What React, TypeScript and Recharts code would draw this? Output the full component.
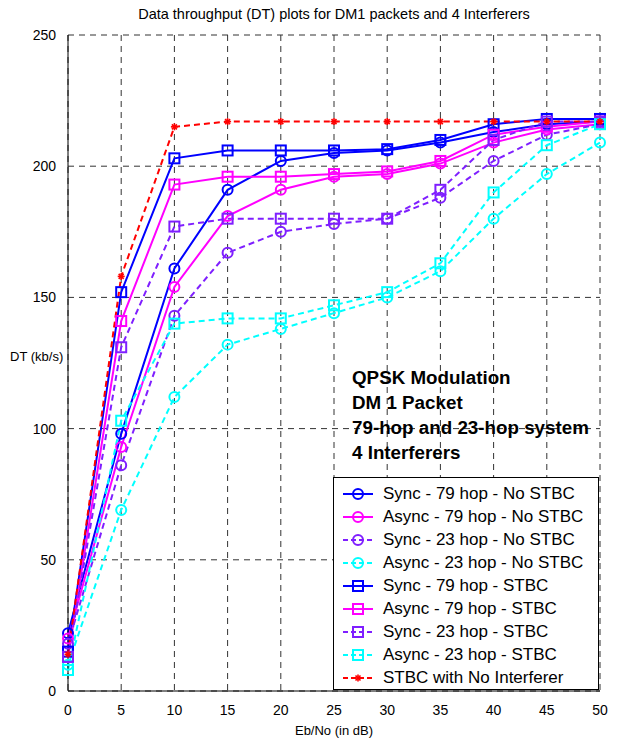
import { LineChart, Line, XAxis, YAxis, CartesianGrid } from 'recharts'

// Eb/No points (dB)
const EBNO = [0, 5, 10, 15, 20, 25, 30, 35, 40, 45, 50]

// DT (kb/s)
const SYNC79_NOSTBC = [22, 98, 161, 191, 202, 205, 206, 209, 213, 216, 217]
const ASYNC79_NOSTBC = [20, 93, 154, 181, 191, 196, 197, 201, 209, 214, 216]
const SYNC23_NOSTBC = [18, 86, 143, 167, 175, 178, 180, 188, 202, 212, 216]
const ASYNC23_NOSTBC = [10, 69, 112, 132, 138, 144, 150, 160, 180, 197, 209]
const SYNC79_STBC = [15, 152, 203, 206, 206, 206, 206.5, 210, 216, 218, 218]
const ASYNC79_STBC = [13, 141, 193, 196, 196, 197, 198, 202, 212, 215, 217]
const SYNC23_STBC = [13, 131, 177, 180, 180, 180, 180, 191, 210, 217, 217]
const ASYNC23_STBC = [8, 103, 140, 142, 142, 147, 152, 163, 190, 208, 216]
const NO_INTERF = [14, 158, 215, 217, 217, 217, 217, 217, 217, 217, 217]

const X_TICKS = [0, 5, 10, 15, 20, 25, 30, 35, 40, 45, 50]
const Y_TICKS = [0, 50, 100, 150, 200, 250]

const ANNOTATION = ['QPSK Modulation', 'DM 1 Packet', '79-hop and 23-hop system', '4 Interferers']

type Shape = 'circle' | 'square' | 'star'

interface Series {
  key: string
  name: string
  values: number[]
  color: string
  dashed: boolean
  shape: Shape
}

const BLUE = '#0000ff'
const MAGENTA = '#ff00ff'
const PURPLE = '#7f1fff'
const CYAN = '#00ffff'
const RED = '#ff0000'

const SERIES: Series[] = [
  { key: 's79n', name: 'Sync - 79 hop - No STBC', values: SYNC79_NOSTBC, color: BLUE, dashed: false, shape: 'circle' },
  { key: 'a79n', name: 'Async - 79 hop - No STBC', values: ASYNC79_NOSTBC, color: MAGENTA, dashed: false, shape: 'circle' },
  { key: 's23n', name: 'Sync - 23 hop - No STBC', values: SYNC23_NOSTBC, color: PURPLE, dashed: true, shape: 'circle' },
  { key: 'a23n', name: 'Async - 23 hop - No STBC', values: ASYNC23_NOSTBC, color: CYAN, dashed: true, shape: 'circle' },
  { key: 's79s', name: 'Sync - 79 hop - STBC', values: SYNC79_STBC, color: BLUE, dashed: false, shape: 'square' },
  { key: 'a79s', name: 'Async - 79 hop - STBC', values: ASYNC79_STBC, color: MAGENTA, dashed: false, shape: 'square' },
  { key: 's23s', name: 'Sync - 23 hop - STBC', values: SYNC23_STBC, color: PURPLE, dashed: true, shape: 'square' },
  { key: 'a23s', name: 'Async - 23 hop - STBC', values: ASYNC23_STBC, color: CYAN, dashed: true, shape: 'square' },
  { key: 'ref', name: 'STBC with No Interferer', values: NO_INTERF, color: RED, dashed: true, shape: 'star' },
]

const data = EBNO.map((x, i) => {
  const row: Record<string, number> = { x }
  SERIES.forEach((s) => {
    row[s.key] = s.values[i]
  })
  return row
})

const FONT = '"Liberation Sans", Arial, Helvetica, sans-serif'

function marker(shape: Shape, color: string, cx: number, cy: number, key?: string) {
  if (shape === 'circle') {
    return <circle key={key} cx={cx} cy={cy} r={5} fill="none" stroke={color} strokeWidth={2} />
  }
  if (shape === 'square') {
    return <rect key={key} x={cx - 5} y={cy - 5} width={10} height={10} fill="none" stroke={color} strokeWidth={2} />
  }
  return (
    <g key={key} stroke={color} strokeWidth={1.6}>
      <line x1={cx - 3.5} y1={cy} x2={cx + 3.5} y2={cy} />
      <line x1={cx} y1={cy - 3.5} x2={cx} y2={cy + 3.5} />
      <line x1={cx - 2.5} y1={cy - 2.5} x2={cx + 2.5} y2={cy + 2.5} />
      <line x1={cx - 2.5} y1={cy + 2.5} x2={cx + 2.5} y2={cy - 2.5} />
    </g>
  )
}

function LegendBox() {
  return (
    <div
      style={{
        position: 'absolute',
        left: 333,
        top: 477,
        width: 266,
        height: 213,
        border: '1px solid #000',
        background: '#fff',
        fontFamily: FONT,
        fontSize: 17,
        color: '#000',
        boxSizing: 'border-box',
        paddingTop: 4,
      }}
    >
      {SERIES.map((s) => (
        <div key={s.key} style={{ display: 'flex', alignItems: 'center', height: 23.1 }}>
          <svg width={49} height={20} style={{ flexShrink: 0 }}>
            <line
              x1={9}
              y1={10}
              x2={39}
              y2={10}
              stroke={s.color}
              strokeWidth={2}
              strokeDasharray={s.dashed ? '5 3' : undefined}
            />
            {marker(s.shape, s.color, 24, 10)}
          </svg>
          <span style={{ whiteSpace: 'nowrap' }}>{s.name}</span>
        </div>
      ))}
    </div>
  )
}

export default function App() {
  return (
    <div style={{ position: 'absolute', left: 0, top: 0, width: 621, height: 744, background: '#fff', fontFamily: FONT }}>
      <div
        style={{
          position: 'absolute',
          top: 6,
          left: 68,
          width: 532,
          textAlign: 'center',
          fontSize: 14.5,
          color: '#000',
        }}
      >
        Data throughput (DT) plots for DM1 packets and 4 Interferers
      </div>
      <div style={{ position: 'absolute', left: 10, top: 349, fontSize: 13, color: '#000' }}>DT (kb/s)</div>
      <LineChart width={621} height={744} data={data} margin={{ top: 35, right: 21, bottom: 0, left: 0 }}>
        <CartesianGrid stroke="#333" strokeDasharray="6 5" />
        <XAxis
          dataKey="x"
          type="number"
          domain={[0, 50]}
          ticks={X_TICKS}
          height={53}
          tickLine={false}
          tickMargin={8}
          axisLine={{ stroke: '#000' }}
          tick={{ fill: '#000', fontSize: 14, fontFamily: FONT }}
          label={{ value: 'Eb/No (in dB)', position: 'insideBottom', offset: 9, fill: '#000', fontSize: 13, fontFamily: FONT }}
        />
        <XAxis xAxisId="top" orientation="top" type="number" domain={[0, 50]} tick={false} tickLine={false} height={0} axisLine={{ stroke: '#000' }} />
        <YAxis
          type="number"
          domain={[0, 250]}
          ticks={Y_TICKS}
          width={68}
          tickLine={false}
          tickMargin={6}
          axisLine={{ stroke: '#000' }}
          tick={{ fill: '#000', fontSize: 14, fontFamily: FONT }}
        />
        <YAxis yAxisId="right" orientation="right" type="number" domain={[0, 250]} tick={false} tickLine={false} width={0} axisLine={{ stroke: '#000' }} />
        {SERIES.map((s) => (
          <Line
            key={s.key}
            dataKey={s.key}
            name={s.name}
            type="linear"
            stroke={s.color}
            strokeWidth={2}
            strokeDasharray={s.dashed ? '6 4' : undefined}
            isAnimationActive={false}
            dot={(p: any) => marker(s.shape, s.color, p.cx, p.cy, `${s.key}-${p.index}`)}
            activeDot={false}
          />
        ))}
      </LineChart>
      <div
        style={{
          position: 'absolute',
          left: 352,
          top: 365,
          fontSize: 18.8,
          fontWeight: 'bold',
          lineHeight: '25px',
          color: '#000',
          whiteSpace: 'nowrap',
        }}
      >
        {ANNOTATION.map((t) => (
          <div key={t}>{t}</div>
        ))}
      </div>
      <LegendBox />
    </div>
  )
}
